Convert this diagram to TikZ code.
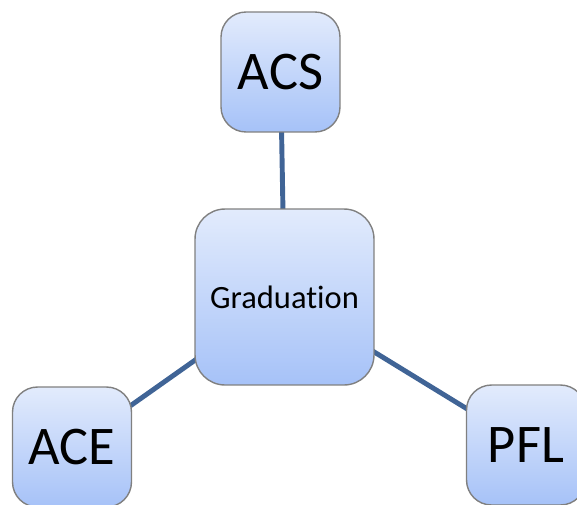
\documentclass[tikz,border=0pt]{standalone}
\usepackage{fontspec}
\setmainfont{Carlito}[Ligatures=NoCommon]
\usepackage{tikz}
\usetikzlibrary{positioning,backgrounds}

\definecolor{boxtop}{RGB}{226,235,252}
\definecolor{boxbottom}{RGB}{166,194,248}
\definecolor{boxline}{RGB}{128,128,128}
\definecolor{linkblue}{RGB}{64,100,150}

\begin{document}
\begin{tikzpicture}[x=0.02cm, y=-0.02cm,
  box/.style={draw=boxline, line width=0.8pt, rounded corners=0.5cm,
    top color=boxtop, bottom color=boxbottom,
    minimum width=2.38cm, minimum height=2.4cm, inner sep=0pt},
  link/.style={draw=linkblue, line width=2.8pt}]
\useasboundingbox (0,0) rectangle (577,504);
\clip (0,0) rectangle (577,504);
% outer boxes
\node[box, font=\fontsize{31}{36}\selectfont] (acs) at (280.5,72) {ACS};
\node[box, font=\fontsize{31}{36}\selectfont] (ace) at (72,447) {ACE};
\node[box, font=\fontsize{31}{36}\selectfont] (pfl) at (526,445) {PFL};
% centre box
\node[box, rounded corners=0.6cm, minimum width=3.58cm, minimum height=3.52cm,
  font=\fontsize{18.5}{22}\selectfont] (grad) at (284.5,297) {Graduation};
% links behind the boxes
\begin{scope}[on background layer]
\draw[link] (grad.center) -- (acs.center);
\draw[link] (grad.center) -- (ace.center);
\draw[link] (grad.center) -- (pfl.center);
\end{scope}
\end{tikzpicture}
\end{document}
